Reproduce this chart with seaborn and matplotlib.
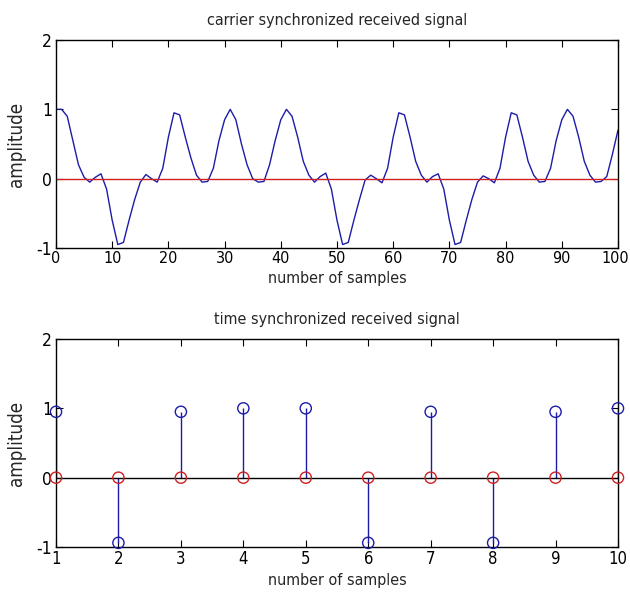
import numpy as np
import pandas as pd
import matplotlib
matplotlib.use("Agg")
import matplotlib.pyplot as plt
import matplotlib.transforms as mtransforms
import seaborn as sns
from matplotlib import font_manager

# ---------------- data ----------------
samples_top = list(range(0, 101))
carrier_signal = [
    1.00, 1.00, 0.90, 0.55, 0.20, 0.02, -0.05, 0.02, 0.07, -0.15,
    -0.60, -0.95, -0.92, -0.60, -0.30, -0.05, 0.06, 0.00, -0.05, 0.15,
    0.60, 0.95, 0.92, 0.60, 0.30, 0.05, -0.05, -0.04, 0.15, 0.55,
    0.85, 1.00, 0.85, 0.50, 0.20, 0.00, -0.05, -0.04, 0.20, 0.55,
    0.85, 1.00, 0.90, 0.60, 0.25, 0.05, -0.05, 0.03, 0.08, -0.15,
    -0.60, -0.95, -0.92, -0.60, -0.30, -0.02, 0.05, 0.00, -0.06, 0.15,
    0.60, 0.95, 0.92, 0.60, 0.25, 0.05, -0.05, 0.03, 0.07, -0.15,
    -0.60, -0.95, -0.92, -0.60, -0.30, -0.05, 0.04, 0.00, -0.06, 0.15,
    0.60, 0.95, 0.92, 0.60, 0.25, 0.05, -0.05, -0.04, 0.15, 0.55,
    0.85, 1.00, 0.90, 0.60, 0.25, 0.05, -0.05, -0.04, 0.03, 0.35,
    0.70,
]
carrier_reference = [0.0, 0.0]
carrier_reference_x = [0, 100]

symbol_index = [1, 2, 3, 4, 5, 6, 7, 8, 9, 10]
symbol_values = [0.95, -0.94, 0.95, 1.0, 1.0, -0.94, 0.95, -0.94, 0.95, 1.0]
zero_values = [0, 0, 0, 0, 0, 0, 0, 0, 0, 0]

top_xticks = [0, 10, 20, 30, 40, 50, 60, 70, 80, 90, 100]
yticks = [-1, 0, 1, 2]

# ---------------- style ----------------
sns.set_theme(style="white")
available = {f.name for f in font_manager.fontManager.ttflist}
if "Liberation Sans Narrow" in available:
    plt.rcParams["font.family"] = ["Liberation Sans Narrow", "DejaVu Sans"]
else:
    plt.rcParams["font.family"] = ["DejaVu Sans"]
    plt.rcParams["font.stretch"] = "condensed"

BLUE = "#1c1ca8"
RED = "#d02020"

fig = plt.figure(figsize=(6.30, 6.03), dpi=100)
ax1 = fig.add_axes([56 / 630, 1 - 248 / 603, (618 - 56) / 630, 208 / 603])
ax2 = fig.add_axes([56 / 630, 1 - 547 / 603, (618 - 56) / 630, 208 / 603])

df_top = pd.DataFrame({"x": samples_top, "y": carrier_signal})
sns.lineplot(data=df_top, x="x", y="y", ax=ax1, color=BLUE, linewidth=1.0)
sns.lineplot(x=carrier_reference_x, y=carrier_reference, ax=ax1, color=RED, linewidth=1.0)

df_bot = pd.DataFrame({"x": symbol_index, "y": symbol_values, "z": zero_values})
ax2.vlines(df_bot["x"], 0, df_bot["y"], color=BLUE, linewidth=1.0, zorder=2)
ax2.axhline(0, color="black", linewidth=1.0, zorder=2)
sns.scatterplot(data=df_bot, x="x", y="y", ax=ax2, marker="o", s=65,
                facecolor="none", edgecolor=BLUE, linewidth=1.0, zorder=4, clip_on=False)
sns.scatterplot(data=df_bot, x="x", y="z", ax=ax2, marker="o", s=65,
                facecolor="none", edgecolor=RED, linewidth=1.0, zorder=4, clip_on=False)

for ax, xt, xlim, title, xfs in [
    (ax1, top_xticks, (0, 100), "carrier synchronized received signal", 11.5),
    (ax2, symbol_index, (1, 10), "time synchronized received signal", 12),
]:
    ax.set_xlim(*xlim)
    ax.set_ylim(-1, 2)
    ax.set_xticks(xt)
    ax.set_yticks(yticks)
    ax.set_xticklabels([str(v) for v in xt], fontsize=xfs)
    ax.set_yticklabels([str(v) for v in yticks], fontsize=12.5)
    ax.tick_params(direction="in", length=5, width=0.8, top=True, right=True,
                   bottom=True, left=True, colors="black")
    ax.tick_params(axis="x", pad=2)
    ax.tick_params(axis="y", pad=3)
    for s in ax.spines.values():
        s.set_visible(True)
        s.set_color("black")
        s.set_linewidth(1.0)
    ax.set_xlabel("number of samples", fontsize=11.5, labelpad=4)
    ax.set_ylabel("amplitude", fontsize=13.5, labelpad=7)
    ax.set_title(title, fontsize=11.5, pad=11)

# nudge the last top tick label ("100") slightly left so it stays inside the canvas
last = ax1.get_xticklabels()[-1]
last.set_transform(last.get_transform() + mtransforms.ScaledTranslation(-3 / 100, 0, fig.dpi_scale_trans))

fig.savefig("out.png", dpi=100)
